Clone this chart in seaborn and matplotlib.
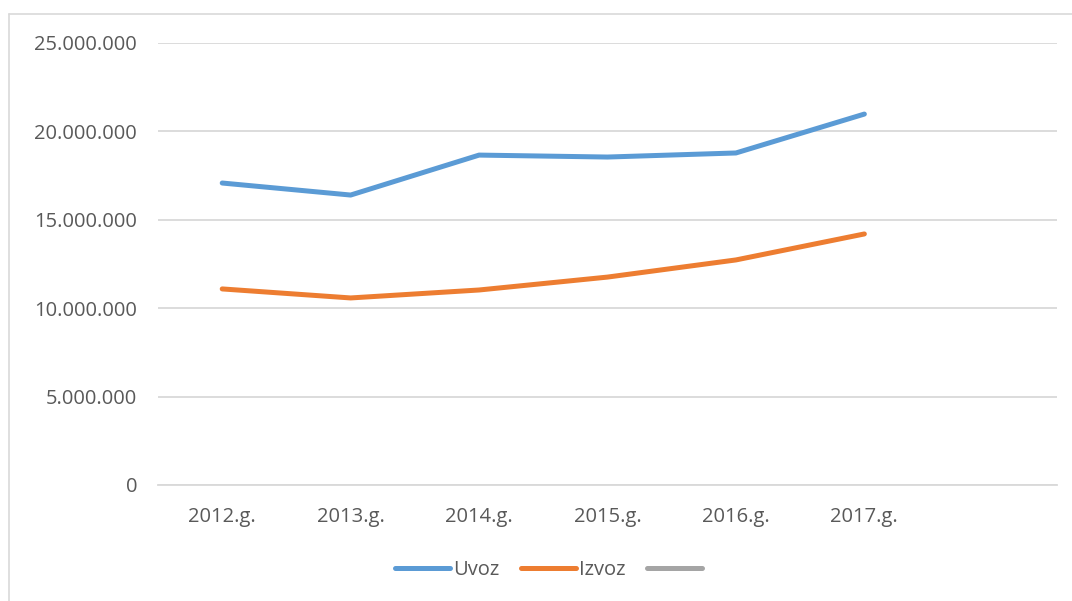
import matplotlib
matplotlib.use("Agg")
import matplotlib.pyplot as plt
import matplotlib.ticker as mticker
from matplotlib.lines import Line2D
import pandas as pd
import seaborn as sns

years = ["2012.g.", "2013.g.", "2014.g.", "2015.g.", "2016.g.", "2017.g."]
uvoz = [17080000, 16400000, 18660000, 18550000, 18780000, 20980000]
izvoz = [11090000, 10580000, 11030000, 11760000, 12730000, 14200000]

df = pd.DataFrame({
    "pos": list(range(len(years))) * 2,
    "value": uvoz + izvoz,
    "serija": ["Uvoz"] * len(years) + ["Izvoz"] * len(years),
})

sns.set_style("white")
plt.rcParams["font.family"] = ["Open Sans", "DejaVu Sans"]

colors = {"Uvoz": "#5B9BD5", "Izvoz": "#ED7D31"}
grid_col = "#D9D9D9"
text_col = "#595959"
fs = 14.5

fig = plt.figure(figsize=(10.72, 6.01), dpi=100)
ax = fig.add_axes([158 / 1072, 1 - 485 / 601, (1057 - 158) / 1072, (485 - 43) / 601])

sns.lineplot(data=df, x="pos", y="value", hue="serija", palette=colors,
             linewidth=3.6, ax=ax, legend=False, solid_capstyle="round")
for ln in ax.lines:
    ln.set_solid_joinstyle("round")

ax.set_xlim(-0.5, 6.5)
ax.set_ylim(0, 25000000)
ax.set_xticks(range(len(years)))
ax.set_xticklabels(years)
ax.set_yticks(range(0, 25000001, 5000000))
ax.yaxis.set_major_formatter(mticker.FuncFormatter(lambda v, p: f"{int(v):,}".replace(",", ".")))
ax.tick_params(axis="both", length=0, labelsize=fs, labelcolor=text_col)
ax.tick_params(axis="y", pad=15)
ax.tick_params(axis="x", pad=16)
ax.yaxis.grid(True, color=grid_col, linewidth=1.3)
ax.set_axisbelow(True)
for s in ["top", "right", "left"]:
    ax.spines[s].set_visible(False)
ax.spines["bottom"].set_color(grid_col)
ax.spines["bottom"].set_linewidth(1.3)
ax.set_xlabel("")
ax.set_ylabel("")

handles = [
    Line2D([], [], color="#5B9BD5", linewidth=3.6, solid_capstyle="round"),
    Line2D([], [], color="#ED7D31", linewidth=3.6, solid_capstyle="round"),
    Line2D([], [], color="#A5A5A5", linewidth=3.6, solid_capstyle="round"),
]
fig.legend(handles, ["Uvoz", "Izvoz", ""], loc="center", bbox_to_anchor=(550 / 1072, 1 - 570 / 601),
           ncol=3, frameon=False, fontsize=fs, labelcolor=text_col, handlelength=2.7,
           handletextpad=0.15, columnspacing=1.1)

# chart-area border (left and top visible in the crop)
fig.add_artist(Line2D([9 / 1072, 9 / 1072], [0, 1 - 14 / 601], transform=fig.transFigure,
                      color=grid_col, linewidth=1.2))
fig.add_artist(Line2D([9 / 1072, 1], [1 - 14 / 601, 1 - 14 / 601], transform=fig.transFigure,
                      color=grid_col, linewidth=1.2))

fig.savefig("out.png", dpi=100)
